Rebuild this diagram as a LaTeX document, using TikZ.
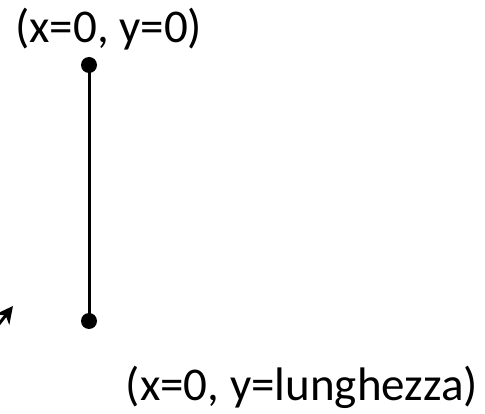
\documentclass[tikz,border=0pt]{standalone}
\usepackage{fontspec}
\setmainfont{Carlito}
\usetikzlibrary{arrows.meta}
\tikzset{
  lbl/.style={inner sep=0pt, font=\fontsize{47}{56}\selectfont},
  dotpt/.style={circle, fill=black, inner sep=0pt, minimum size=16pt},
  rod/.style={line width=3pt},
  ptr/.style={line width=3pt, -{Stealth[length=17pt,width=17pt,inset=5pt]}},
}
\begin{document}
\begin{tikzpicture}[x=1pt,y=-1pt]
\useasboundingbox (0,0) rectangle (485,414);
\node[lbl, anchor=base west] (t) at (15,43) {(x=0, y=0)};
\node[lbl, anchor=base east] (b) at (478,400) {(x=0, y=lunghezza)};
\node[dotpt] (p0) at (89,65) {};
\node[dotpt] (p1) at (89,321) {};
\draw[rod] (p0.center) -- (p1.center);
\coordinate (a0) at (-8,333);
\coordinate (a1) at (13,306);
\draw[ptr] (a0) -- (a1);
\end{tikzpicture}
\end{document}
